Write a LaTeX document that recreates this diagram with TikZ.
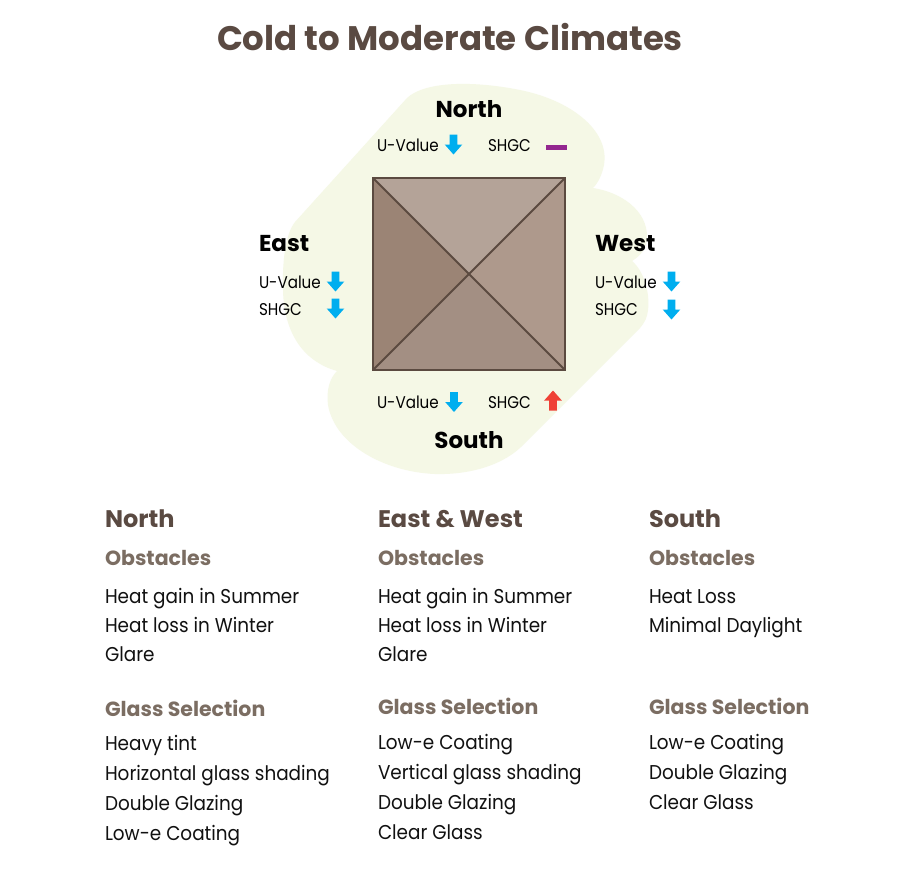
\documentclass[tikz,border=0pt]{standalone}
\usepackage{fontspec}
\setmainfont{Poppins}
\newfontfamily\smallfam{Poppins}[FakeStretch=0.89]
\newfontfamily\itemfam{Poppins}[FakeStretch=0.92]
\definecolor{blobc}{HTML}{F5F8E6}
\definecolor{titlec}{HTML}{5A4A42}
\definecolor{subc}{HTML}{7B6D62}
\definecolor{itemc}{HTML}{111111}
\definecolor{edgec}{HTML}{5B4A40}
\definecolor{sqtop}{HTML}{B4A398}
\definecolor{sqleft}{HTML}{9B8475}
\definecolor{sqright}{HTML}{AE998C}
\definecolor{sqbot}{HTML}{A38F83}
\definecolor{arrblue}{HTML}{00AEEF}
\definecolor{arrred}{HTML}{EF4136}
\definecolor{barpurple}{HTML}{93278F}
\begin{document}
\begin{tikzpicture}[x=1pt,y=-1pt,
  every node/.style={inner sep=0pt, outer sep=0pt},
  titletext/.style={anchor=base, text=titlec, font=\fontsize{34}{37}\selectfont\bfseries},
  dirtext/.style={text=black, font=\fontsize{23}{26}\selectfont\bfseries},
  smalltext/.style={anchor=base west, text=black, font=\smallfam\fontsize{17}{20}\selectfont},
  headtext/.style={anchor=base west, text=titlec, font=\fontsize{24}{27}\selectfont\bfseries},
  subtext/.style={anchor=base west, text=subc, font=\fontsize{20.5}{23}\selectfont\bfseries},
  itemtext/.style={anchor=base west, text=itemc, font=\itemfam\fontsize{20}{23}\selectfont},
  downarrow/.pic={\fill[arrblue] (-3.8,-10) -- (3.8,-10) -- (3.8,0) -- (8.8,0) -- (0,10) -- (-8.8,0) -- (-3.8,0) -- cycle;},
  uparrow/.pic={\fill[arrred] (-3.8,10) -- (3.8,10) -- (3.8,0) -- (8.8,0) -- (0,-10) -- (-8.8,0) -- (-3.8,0) -- cycle;}
]
\useasboundingbox (0,0) rectangle (900,883);
\fill[white] (0,0) rectangle (900,883);

% title
\node[titletext] (title) at (450,51) {Cold to Moderate Climates};

% blob background
\fill[blobc] (407,98) .. controls (424,82) and (470,80) .. (520,90)
  .. controls (570,100) and (610,130) .. (604,165)
  .. controls (602,175) and (598,183) .. (593,188)
  .. controls (620,192) and (648,210) .. (647,238)
  .. controls (646,250) and (640,256) .. (632,261)
  .. controls (645,272) and (650,295) .. (648,310)
  .. controls (647,318) and (645,322) .. (640,328)
  -- (525,443)
  .. controls (505,465) and (470,475) .. (435,474)
  .. controls (385,472) and (335,445) .. (328,405)
  .. controls (326,390) and (330,378) .. (337,371)
  .. controls (305,362) and (284,335) .. (283,290)
  .. controls (282,255) and (287,232) .. (295,222)
  -- cycle;

% square
\coordinate (tl) at (373,178);
\coordinate (tr) at (565,178);
\coordinate (bl) at (373,370);
\coordinate (br) at (565,370);
\coordinate (cc) at (469,274);
\fill[sqtop] (tl) -- (tr) -- (cc) -- cycle;
\fill[sqleft] (tl) -- (bl) -- (cc) -- cycle;
\fill[sqright] (tr) -- (br) -- (cc) -- cycle;
\fill[sqbot] (bl) -- (br) -- (cc) -- cycle;
\draw[edgec, line width=1.8pt] (tl) -- (br) (tr) -- (bl);
\draw[edgec, line width=2.6pt] (tl) rectangle (br);

% direction labels
\node[dirtext, anchor=base] (north) at (469,117.3) {North};
\node[dirtext, anchor=base] (south) at (469,448.3) {South};
\node[dirtext, anchor=base west] (east) at (259,251.7) {East};
\node[dirtext, anchor=base west] (west) at (595,251.7) {West};

% north row
\node[smalltext] (nu) at (377,151.6) {U-Value};
\node[smalltext] (ns) at (488,151.6) {SHGC};
\pic at (453.5,144.5) {downarrow};
\fill[barpurple] (546,144.5) rectangle (567,149.5);

% east
\node[smalltext] (eu) at (259,288.3) {U-Value};
\node[smalltext] (es) at (259,315) {SHGC};
\pic at (335.5,281.5) {downarrow};
\pic at (335.5,308.5) {downarrow};

% west
\node[smalltext] (wu) at (595,288.3) {U-Value};
\node[smalltext] (ws) at (595,315) {SHGC};
\pic at (671.5,281.5) {downarrow};
\pic at (671.5,309.5) {downarrow};

% south row
\node[smalltext] (su) at (377,408.3) {U-Value};
\node[smalltext] (ss) at (488,408.3) {SHGC};
\pic at (454,402) {downarrow};
\pic at (553,400.5) {uparrow};

% columns
\node[headtext] (h1) at (105,527.3) {North};
\node[headtext] (h2) at (378,527.3) {East \& West};
\node[headtext] (h3) at (649,527.3) {South};

\node[subtext] (o1) at (105,565) {Obstacles};
\node[subtext] (o2) at (378,565) {Obstacles};
\node[subtext] (o3) at (649,565) {Obstacles};

\node[itemtext] (a1) at (105,603.3) {Heat gain in Summer};
\node[itemtext] (a2) at (105,632.5) {Heat loss in Winter};
\node[itemtext] (a3) at (105,661.7) {Glare};
\node[itemtext] (b1) at (378,603.3) {Heat gain in Summer};
\node[itemtext] (b2) at (378,632.5) {Heat loss in Winter};
\node[itemtext] (b3) at (378,661.7) {Glare};
\node[itemtext] (c1) at (649,603.3) {Heat Loss};
\node[itemtext] (c2) at (649,632.5) {Minimal Daylight};

\node[subtext] (g1) at (105,716.3) {Glass Selection};
\node[subtext] (g2) at (378,714.5) {Glass Selection};
\node[subtext] (g3) at (649,714.5) {Glass Selection};

\node[itemtext] (d1) at (105,750) {Heavy tint};
\node[itemtext] (d2) at (105,780) {Horizontal glass shading};
\node[itemtext] (d3) at (105,810) {Double Glazing};
\node[itemtext] (d4) at (105,840) {Low-e Coating};
\node[itemtext] (e1) at (378,749.5) {Low-e Coating};
\node[itemtext] (e2) at (378,779.5) {Vertical glass shading};
\node[itemtext] (e3) at (378,809.5) {Double Glazing};
\node[itemtext] (e4) at (378,839.5) {Clear Glass};
\node[itemtext] (f1) at (649,749.5) {Low-e Coating};
\node[itemtext] (f2) at (649,779.5) {Double Glazing};
\node[itemtext] (f3) at (649,809.5) {Clear Glass};
\end{tikzpicture}
\end{document}
